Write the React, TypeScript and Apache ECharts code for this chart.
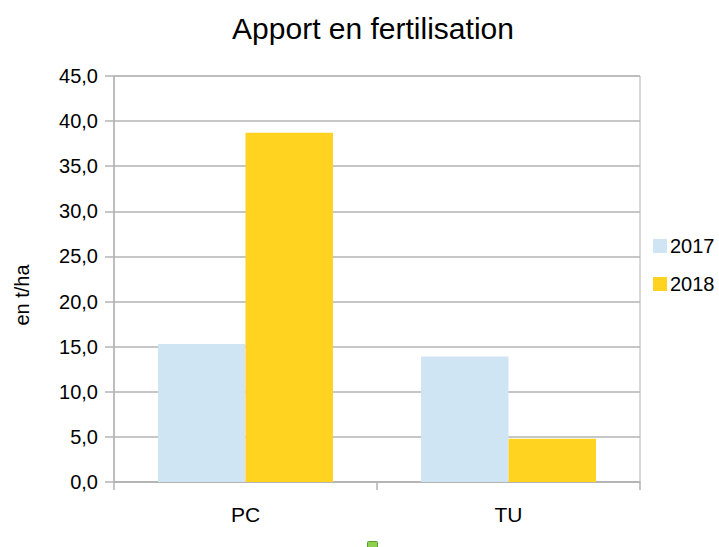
import React, { useEffect, useRef } from "react";
import * as echarts from "echarts";

const categories = ["PC", "TU"];
const seriesNames = ["2017", "2018"];
const values2017 = [15.3, 13.9];
const values2018 = [38.7, 4.8];
const yTicks = { min: 0, max: 45, interval: 5 };

export default function App() {
  const ref = useRef<HTMLDivElement>(null);
  useEffect(() => {
    if (!ref.current) return;
    const chart = echarts.init(ref.current, null, { renderer: "svg" });
    const font = "'Liberation Sans', Arial, sans-serif";
    chart.setOption({
      animation: false,
      backgroundColor: "#ffffff",
      textStyle: { fontFamily: font },
      title: {
        text: "Apport en fertilisation",
        left: 368,
        textAlign: "center",
        top: 8,
        textStyle: { fontFamily: font, fontSize: 30, fontWeight: "normal", color: "#000" },
      },
      legend: {
        orient: "vertical",
        left: 648,
        top: 231,
        itemWidth: 14,
        itemHeight: 14,
        itemGap: 18,
        icon: "rect",
        data: seriesNames,
        textStyle: { fontFamily: font, fontSize: 20, color: "#000", padding: [0, 0, 0, -2] },
      },
      grid: {
        left: 114,
        right: 79,
        top: 76,
        bottom: 65,
        show: true,
        borderColor: "#b3b3b3",
        borderWidth: 1,
      },
      xAxis: {
        type: "category",
        data: categories,
        axisLine: { show: true, lineStyle: { color: "#b3b3b3", width: 1.5 } },
        axisTick: { show: true, length: 8, lineStyle: { color: "#b3b3b3", width: 1.5 } },
        axisLabel: { margin: 22, fontFamily: font, fontSize: 21, color: "#000" },
        splitLine: { show: false },
      },
      yAxis: {
        type: "value",
        min: yTicks.min,
        max: yTicks.max,
        interval: yTicks.interval,
        name: "en t/ha",
        nameLocation: "middle",
        nameRotate: 90,
        nameGap: 82,
        nameTextStyle: { fontFamily: font, fontSize: 20, color: "#000", padding: [0, 32, 0, 0] },
        axisLine: { show: true, lineStyle: { color: "#b3b3b3", width: 1.5 } },
        axisTick: { show: true, length: 9, lineStyle: { color: "#b3b3b3", width: 1.5 } },
        axisLabel: {
          margin: 16,
          fontFamily: font,
          fontSize: 20,
          color: "#000",
          formatter: (v: number) => v.toFixed(1).replace(".", ","),
        },
        splitLine: { show: true, lineStyle: { color: "#b3b3b3", width: 1.5 } },
      },
      series: [
        {
          name: seriesNames[0],
          type: "bar",
          data: values2017,
          itemStyle: { color: "#cfe5f3" },
          barGap: "0%",
          barCategoryGap: "33.5%",
        },
        {
          name: seriesNames[1],
          type: "bar",
          data: values2018,
          itemStyle: { color: "#ffd320" },
          barGap: "0%",
          barCategoryGap: "33.5%",
        },
      ],
      graphic: [
        {
          type: "rect",
          left: 367,
          top: 541,
          shape: { x: 0, y: 0, width: 10, height: 10, r: 1 },
          style: { fill: "#8fd14f", stroke: "#5a9e2a", lineWidth: 1 },
        },
      ],
    });
    return () => chart.dispose();
  }, []);
  return (
    <div
      ref={ref}
      style={{ position: "fixed", left: 0, top: 0, width: 719, height: 547 }}
    />
  );
}
